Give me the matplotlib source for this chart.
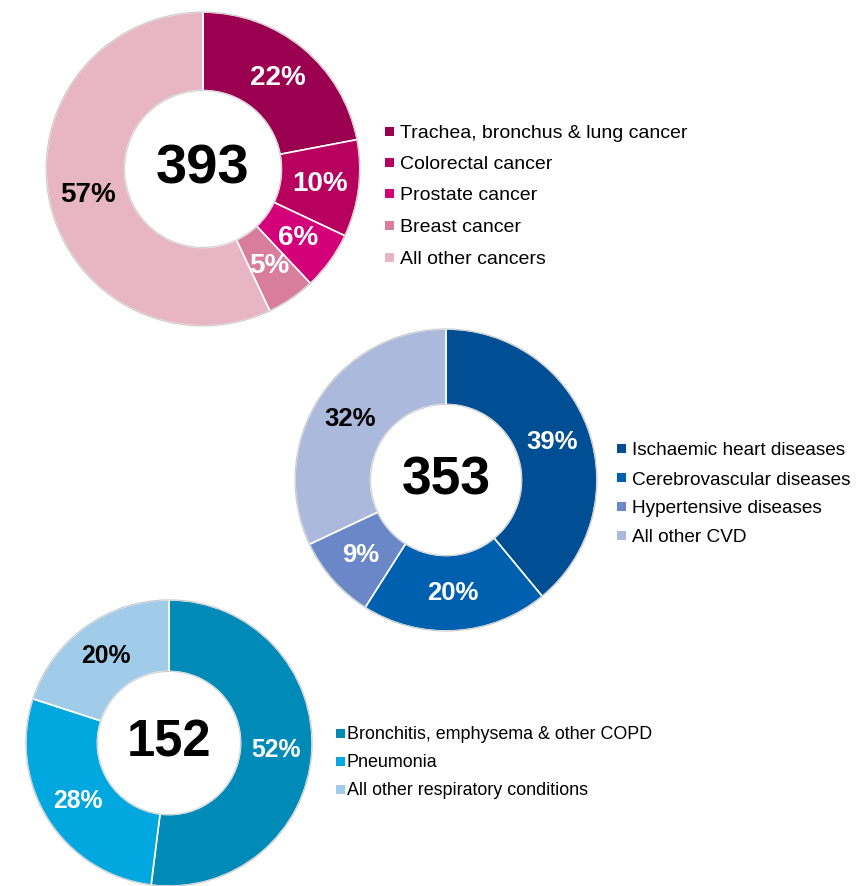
import matplotlib
matplotlib.use("Agg")
import matplotlib.pyplot as plt
from matplotlib.patches import Rectangle, Circle

plt.rcParams["font.family"] = ["Liberation Sans", "DejaVu Sans"]

W, H = 861, 886

# --- data ---
cancer_labels = ["Trachea, bronchus & lung cancer", "Colorectal cancer",
                 "Prostate cancer", "Breast cancer", "All other cancers"]
cancer_values = [22, 10, 6, 5, 57]
cancer_colors = ["#9B0050", "#B8005F", "#D4007A", "#D87D9C", "#E8B5C5"]
cancer_total = "393"

cvd_labels = ["Ischaemic heart diseases", "Cerebrovascular diseases",
              "Hypertensive diseases", "All other CVD"]
cvd_values = [39, 20, 9, 32]
cvd_colors = ["#004E93", "#0060B0", "#6A88C8", "#AAB9DC"]
cvd_total = "353"

resp_labels = ["Bronchitis, emphysema & other COPD", "Pneumonia",
               "All other respiratory conditions"]
resp_values = [52, 28, 20]
resp_colors = ["#008AB8", "#00A8DF", "#A0CCEA"]
resp_total = "152"

# which wedge labels are drawn in black (light segments)
dark_text = {"All other cancers", "All other CVD", "All other respiratory conditions"}


def px(x, y):
    """pixel (from top-left) -> figure fraction"""
    return x / W, 1 - y / H


def donut(fig, cx, cy, r, values, colors, labels, total, pct_size, total_size):
    x0, y0 = px(cx - r, cy + r)
    ax = fig.add_axes([x0, y0, 2 * r / W, 2 * r / H])
    wedges, texts, autotexts = ax.pie(
        values, colors=colors, startangle=90, counterclock=False,
        radius=1.0, autopct=lambda p: f"{p:.0f}%", pctdistance=0.75,
        wedgeprops=dict(width=0.5, edgecolor="white", linewidth=1.2),
        textprops=dict(fontsize=pct_size, fontweight="bold"))
    for t, lab in zip(autotexts, labels):
        t.set_color("black" if lab in dark_text else "white")
    # faint outline like the original
    ax.add_patch(Circle((0, 0), 1.0, fill=False, edgecolor="#c8c8c8", lw=0.8))
    ax.add_patch(Circle((0, 0), 0.5, fill=False, edgecolor="#d0d0d0", lw=0.8))
    ax.text(0, 0, total, ha="center", va="center", fontsize=total_size,
            fontweight="bold", color="black")
    ax.set_xlim(-1.02, 1.02)
    ax.set_ylim(-1.02, 1.02)
    ax.set_aspect("equal")
    ax.axis("off")
    return ax


def legend(fig, x_mark, x_text, rows_y, labels, colors, size, msize=9):
    cap = size * 100 / 72 * 0.716
    for y, lab, col in zip(rows_y, labels, colors):
        mx, my = px(x_mark, y + msize / 2)
        fig.add_artist(Rectangle((mx, my), msize / W, msize / H,
                                 transform=fig.transFigure, facecolor=col,
                                 edgecolor="none"))
        tx, ty = px(x_text, y + cap / 2)
        fig.text(tx, ty, lab, fontsize=size, color="black", va="baseline", ha="left")


fig = plt.figure(figsize=(W / 100, H / 100), dpi=100)

donut(fig, 203, 169, 160, cancer_values, cancer_colors, cancer_labels,
      cancer_total, 20, 40.5)
donut(fig, 446, 480, 154, cvd_values, cvd_colors, cvd_labels,
      cvd_total, 18.5, 38.5)
donut(fig, 169, 743, 146, resp_values, resp_colors, resp_labels,
      resp_total, 17.8, 36.5)

legend(fig, 385, 400, [131, 162, 193, 225, 257], cancer_labels, cancer_colors, 14)
legend(fig, 617, 632, [448, 478, 506, 535], cvd_labels, cvd_colors, 13.7)
legend(fig, 336, 347, [733, 761, 789], resp_labels, resp_colors, 12.9)

fig.savefig("out.png", dpi=100, facecolor="white")
